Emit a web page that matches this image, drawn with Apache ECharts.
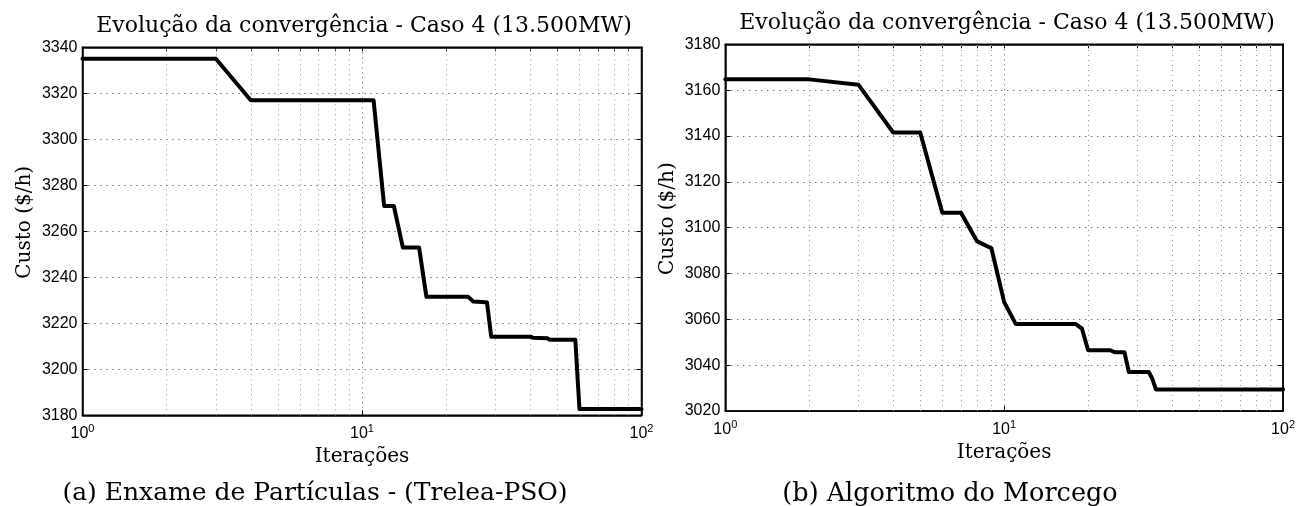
<!DOCTYPE html>
<html><head><meta charset="utf-8">
<script src="https://cdn.jsdelivr.net/npm/echarts@6/dist/echarts.min.js"></script>
<style>html,body{margin:0;padding:0;background:#fff}#c{width:1298px;height:506px}</style>
</head><body><div id="c"></div>
<script>
const titleText = 'Evolução da convergência - Caso 4 (13.500MW)';
const captionA = '(a) Enxame de Partículas - (Trelea-PSO)';
const captionB = '(b) Algoritmo do Morcego';
const xName = 'Iterações';
const yName = 'Custo ($/h)';

const psoIter = [1, 3, 4, 11, 12, 13, 14, 16, 17, 24, 25, 27, 28, 29, 40, 41, 46, 47, 58, 59, 60, 100];
const psoCost = [3335, 3335, 3317, 3317, 3271, 3271, 3253, 3253, 3231.5, 3231.5, 3229.5, 3229.3, 3229, 3214.2, 3214.2, 3213.7, 3213.5, 3212.8, 3212.8, 3197, 3182.7, 3182.7];

const batIter = [1, 2, 3, 4, 5, 6, 7, 8, 9, 10, 11, 18, 19, 20, 24, 25, 27, 28, 33, 34, 35, 100];
const batCost = [3164.7, 3164.7, 3162.4, 3141.5, 3141.5, 3106.5, 3106.5, 3094, 3091, 3067.5, 3058, 3058, 3056, 3046.5, 3046.5, 3045.6, 3045.6, 3037, 3037, 3034, 3029.4, 3029.4];

const xMin = 1, xMax = 100;
const yLeftMin = 3180, yLeftMax = 3340;
const yRightMin = 3020, yRightMax = 3180;
const yInterval = 20;
const minorX = [2, 3, 4, 5, 6, 7, 8, 9, 20, 30, 40, 50, 60, 70, 80, 90];
const allTicksX = [1, 2, 3, 4, 5, 6, 7, 8, 9, 10, 20, 30, 40, 50, 60, 70, 80, 90, 100];

const serif = 'DejaVu Serif';
const sans = 'Liberation Sans';

const grids = [
  {left: 82.5, top: 47.3, width: 559, height: 368},
  {left: 725.3, top: 44.3, width: 558, height: 366.7}
];

function xAxes(gi) {
  return [{
    type: 'log', logBase: 10, min: xMin, max: xMax, gridIndex: gi, position: 'bottom',
    axisLine: {show: true, lineStyle: {color: '#000', width: 1.5}},
    axisTick: {show: true, inside: true, length: 5, lineStyle: {color: '#000'}},
    splitLine: {show: true, lineStyle: {color: '#666', type: [1, 4], width: 1}},
    axisLabel: {
      color: '#000', margin: 8,
      formatter: v => '{b|10}{s|' + Math.round(Math.log10(v)) + '}',
      rich: {
        b: {fontFamily: sans, fontSize: 16, color: '#000'},
        s: {fontFamily: sans, fontSize: 11, color: '#000', padding: [0, 0, 10, 0]}
      }
    },
    name: xName, nameLocation: 'middle', nameGap: 30,
    nameTextStyle: {fontFamily: serif, fontSize: 20, color: '#000'}
  }, {
    type: 'log', logBase: 10, min: xMin, max: xMax, gridIndex: gi, position: 'top',
    axisLine: {show: true, lineStyle: {color: '#000', width: 1.5}},
    axisTick: {show: true, inside: true, length: 4, lineStyle: {color: '#000'}, customValues: allTicksX},
    splitLine: {show: false}, axisLabel: {show: false}
  }];
}

function yAxes(gi, mn, mx) {
  return [{
    type: 'value', min: mn, max: mx, interval: yInterval, gridIndex: gi, position: 'left',
    axisLine: {show: true, lineStyle: {color: '#000', width: 1.5}},
    axisTick: {show: true, inside: true, length: 5, lineStyle: {color: '#000'}},
    splitLine: {show: true, lineStyle: {color: '#333', type: [1, 5], width: 1}},
    axisLabel: {color: '#000', fontFamily: sans, fontSize: 16, margin: 5, formatter: v => String(v)},
    name: yName, nameLocation: 'middle', nameGap: 48,
    nameTextStyle: {fontFamily: serif, fontSize: 20, color: '#000', padding: [0, 0, 0, 18]}
  }, {
    type: 'value', min: mn, max: mx, interval: yInterval, gridIndex: gi, position: 'right',
    axisLine: {show: true, lineStyle: {color: '#000', width: 1.5}},
    axisTick: {show: true, inside: true, length: 5, lineStyle: {color: '#000'}},
    splitLine: {show: false}, axisLabel: {show: false}
  }];
}

function gridSeries(xi, yi) {
  return {
    type: 'line', xAxisIndex: xi, yAxisIndex: yi, data: [], z: 1, silent: true,
    markLine: {
      silent: true, symbol: 'none', animation: false,
      label: {show: false},
      lineStyle: {color: '#999', type: [1, 4], width: 1},
      data: minorX.map(v => ({xAxis: v}))
    }
  };
}

function dataSeries(xi, yi, xs, ys) {
  return {
    type: 'line', xAxisIndex: xi, yAxisIndex: yi, z: 5,
    showSymbol: false, animation: false,
    lineStyle: {color: '#000', width: 4, join: 'round', cap: 'round'},
    data: xs.map((x, i) => [x, ys[i]])
  };
}

const chart = echarts.init(document.getElementById('c'));
chart.setOption({
  backgroundColor: '#fff',
  animation: false,
  title: [
    {text: titleText, left: 359, top: 10, textAlign: 'center',
     textStyle: {fontFamily: serif, fontSize: 22, fontWeight: 'normal', color: '#000'}},
    {text: titleText, left: 1002, top: 7, textAlign: 'center',
     textStyle: {fontFamily: serif, fontSize: 22, fontWeight: 'normal', color: '#000'}},
    {text: captionA, left: 310, top: 476, textAlign: 'center',
     textStyle: {fontFamily: serif, fontSize: 25, fontWeight: 'normal', color: '#000'}},
    {text: captionB, left: 945, top: 476, textAlign: 'center',
     textStyle: {fontFamily: serif, fontSize: 25.5, fontWeight: 'normal', color: '#000'}}
  ],
  grid: grids.map(g => Object.assign({show: true, borderColor: '#000', borderWidth: 1.5, backgroundColor: '#fff', containLabel: false}, g)),
  xAxis: [...xAxes(0), ...xAxes(1)],
  yAxis: [...yAxes(0, yLeftMin, yLeftMax), ...yAxes(1, yRightMin, yRightMax)],
  series: [
    gridSeries(0, 0),
    dataSeries(0, 0, psoIter, psoCost),
    gridSeries(2, 2),
    dataSeries(2, 2, batIter, batCost)
  ]
});
</script>
</body></html>
